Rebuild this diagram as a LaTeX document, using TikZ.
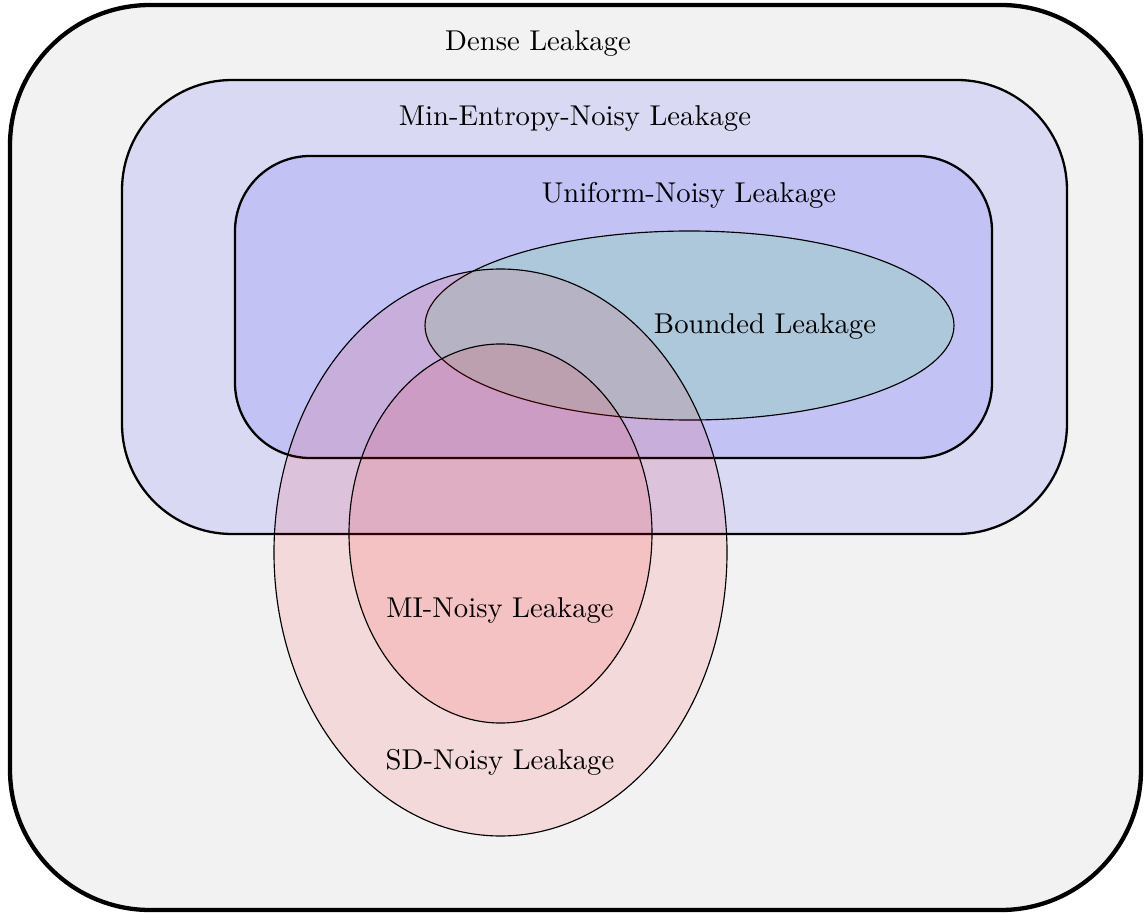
\documentclass[tikz,border=0pt]{standalone}
\begin{document}
\begin{tikzpicture}[x=0.349pt,y=-0.349pt,
  setbox/.style={draw=black, line cap=round},
  setell/.style={draw=black, line width=0.4pt},
  lbl/.style={inner sep=0pt, font=\normalsize}]
\useasboundingbox (0,0) rectangle (1146,915);
% Dense
\draw[setbox, line width=1.5pt, fill=gray!10, rounded corners=48.9pt] (10,5) rectangle (1141,910);
% Min-Entropy
\draw[setbox, line width=0.8pt, fill=blue, fill opacity=0.1, rounded corners=38.4pt] (122,80) rectangle (1067,534);
% Uniform
\draw[setbox, line width=0.8pt, fill=blue, fill opacity=0.1, rounded corners=26.2pt] (235,156) rectangle (992,458);
% Bounded
\draw[setell, fill=green, fill opacity=0.1] (689.5,325.5) ellipse [x radius=92.31pt, y radius=32.98pt];
% SD
\draw[setell, fill=red, fill opacity=0.1] (500.5,552.5) ellipse [x radius=79.05pt, y radius=98.94pt];
% MI
\draw[setell, fill=red, fill opacity=0.1] (500.5,533.5) ellipse [x radius=52.87pt, y radius=66.14pt];
% labels
\node[lbl] (dense) at (538,44) {Dense Leakage};
\node[lbl] (minent) at (575,119) {Min-Entropy-Noisy Leakage};
\node[lbl] (unif) at (689,195) {Uniform-Noisy Leakage};
\node[lbl] (bound) at (765,327) {Bounded Leakage};
\node[lbl] (mi) at (500,611) {MI-Noisy Leakage};
\node[lbl] (sd) at (500,762) {SD-Noisy Leakage};
\end{tikzpicture}
\end{document}
